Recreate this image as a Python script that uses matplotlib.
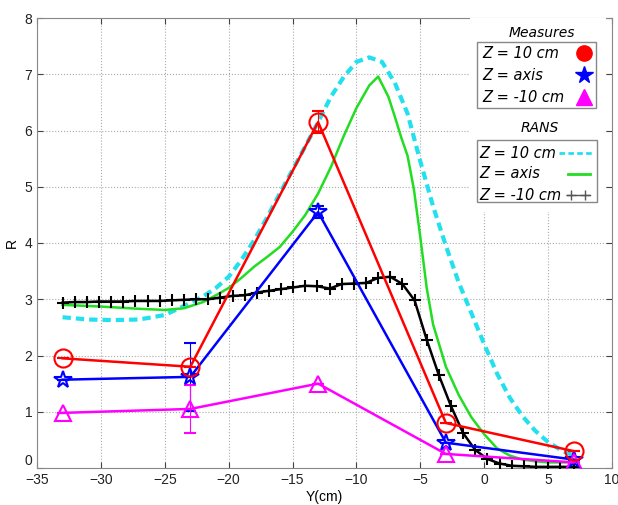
import matplotlib
matplotlib.use("Agg")
import matplotlib.pyplot as plt
from matplotlib.lines import Line2D
from matplotlib.patches import Rectangle

# --- mesures (5 stations) ---
y_meas = [-33, -23, -13, -3, 7]
r_z10 = [1.95, 1.80, 6.15, 0.80, 0.30]
r_axis = [1.57, 1.62, 4.55, 0.45, 0.15]
r_zm10 = [0.98, 1.05, 1.50, 0.25, 0.10]
err_z10 = [0.0, 0.0, 0.20, 0.0, 0.0]
err_axis = [0.0, 0.60, 0.10, 0.0, 0.0]
err_zm10 = [0.0, 0.43, 0.0, 0.0, 0.0]

# --- RANS ---
y_rans10 = [-33, -31, -29, -27, -25, -23.5, -22, -21, -20, -19, -18, -17, -16, -15,
            -14, -13, -12, -11, -10, -9, -8, -7, -6, -5, -4, -3, -2, -1, 0,
            1, 2, 3, 4, 5, 6, 7]
r_rans10 = [2.68, 2.64, 2.63, 2.64, 2.72, 2.88, 3.05, 3.20, 3.40, 3.70, 4.05, 4.45,
            4.88, 5.30, 5.72, 6.15, 6.60, 6.95, 7.22, 7.30, 7.22, 6.85, 6.30, 5.45,
            4.65, 3.95, 3.30, 2.75, 2.20, 1.68, 1.25, 0.92, 0.66, 0.46, 0.32, 0.22]

y_ransax = [-33, -30, -27, -25, -23.5, -22, -21, -20, -19, -18, -17, -16, -15, -14,
            -13, -12, -11, -10, -9, -8.3, -7.5, -7, -6.5, -6, -5.5, -5, -4.5, -4,
            -3, -2, -1, 0, 1, 2, 3, 4, 5, 6, 7]
r_ransax = [2.90, 2.87, 2.83, 2.81, 2.84, 2.95, 3.07, 3.20, 3.38, 3.58, 3.75, 3.93,
            4.20, 4.50, 4.88, 5.35, 5.90, 6.40, 6.80, 6.96, 6.60, 6.25, 5.88, 5.55,
            4.95, 4.10, 3.20, 2.55, 1.80, 1.30, 0.90, 0.60, 0.35, 0.22, 0.15, 0.12,
            0.10, 0.10, 0.10]

y_ransm10 = [-33.0, -32.05, -31.1, -30.15, -29.2, -28.25, -27.3, -26.35, -25.4, -24.45,
             -23.5, -22.55, -21.6, -20.65, -19.7, -18.75, -17.8, -16.85, -15.9, -14.95,
             -14.0, -13.05, -12.1, -11.15, -10.2, -9.25, -8.3, -7.35, -6.4, -5.45,
             -4.5, -3.55, -2.6, -1.65, -0.7, 0.25, 1.2, 2.15, 3.1, 4.05, 5.0, 5.95, 7.0]
r_ransm10 = [2.94, 2.95, 2.95, 2.96, 2.96, 2.96, 2.97, 2.97, 2.97, 2.98,
             2.99, 3.00, 3.00, 3.03, 3.06, 3.07, 3.12, 3.15, 3.18, 3.21,
             3.24, 3.23, 3.19, 3.27, 3.28, 3.29, 3.38, 3.40, 3.27, 2.98,
             2.28, 1.65, 1.10, 0.62, 0.32, 0.16, 0.08, 0.04, 0.03, 0.02, 0.02, 0.02, 0.02]

labels = ["Z = 10 cm", "Z = axis", "Z = -10 cm"]

plt.rcParams["font.family"] = ["Liberation Sans", "DejaVu Sans"]

W, H = 618, 505


def fx(x):
    return x / W


def fy(y):
    return 1 - y / H


fig = plt.figure(figsize=(W / 100, H / 100), dpi=100)
ax = fig.add_axes([fx(37), fy(468), 575 / W, 450 / H])

# RANS
ax.plot(y_rans10, r_rans10, "--", color="#22e0ee", lw=3, dashes=(2, 1.2), zorder=3)
ax.plot(y_ransax, r_ransax, "-", color="#22dd22", lw=1.8, zorder=3)
ax.plot(y_ransm10, r_ransm10, "-", color="black", lw=1.8, marker="+", ms=8, mew=1.5, zorder=4)

# mesures
ax.errorbar(y_meas, r_axis, yerr=err_axis, color="#0000ff", lw=1.8, marker="*", ms=13,
            mfc="none", mew=1.5, capsize=4, elinewidth=0.8, zorder=5)
ax.errorbar(y_meas, r_zm10, yerr=err_zm10, color="#ff00ff", lw=1.8, marker="^", ms=12,
            mfc="none", mew=1.5, capsize=4, elinewidth=0.8, zorder=5)
ax.errorbar(y_meas, r_z10, yerr=err_z10, color="#ff0000", lw=1.8, marker="o", ms=13,
            mfc="none", mew=1.5, capsize=4, elinewidth=0.8, zorder=6)

ax.set_xlim(-35, 10)
ax.set_ylim(0, 8)
ax.set_xticks(range(-35, 11, 5))
ax.set_yticks(range(0, 9))
ax.grid(True, ls=":", color="#aaaaaa", lw=0.8)
ax.tick_params(direction="in", top=True, right=True, labelsize=10, colors="#444444",
               labelcolor="#222222", length=4)
ax.get_yticklabels()[0].set_va("bottom")
for s in ax.spines.values():
    s.set_color("#888888")
ax.set_xlabel("Y(cm)", fontsize=10, labelpad=2)
ax.set_ylabel("R", fontsize=10, labelpad=4)

# zone blanche derriere les legendes
fig.add_artist(Rectangle((fx(470), fy(212)), 136 / W, 194 / H, transform=fig.transFigure,
                         facecolor="white", edgecolor="none", zorder=7))

leg_font = {"family": "DejaVu Sans", "style": "italic", "size": 10.5}

# legende "Measures"
fig.add_artist(Rectangle((fx(477), fy(108)), 119 / W, 66 / H, transform=fig.transFigure,
                         facecolor="white", edgecolor="#888888", lw=1, zorder=8))
fig.text(fx(542), fy(33), "Measures", ha="center", va="center", zorder=9,
         family="DejaVu Sans", style="italic", size=10)
meas_style = [("o", "#ff0000", 11), ("*", "#0000ff", 13), ("^", "#ff00ff", 11)]
for i, (lab, (mk, col, ms)) in enumerate(zip(labels, meas_style)):
    yy = fy(53 + 22 * i)
    fig.text(fx(482), yy, lab, ha="left", va="center", zorder=9, **leg_font)
    fig.add_artist(Line2D([fx(584)], [yy], ls="none", marker=mk, color=col, ms=ms,
                          transform=fig.transFigure, zorder=9))

# legende "RANS"
fig.add_artist(Rectangle((fx(477), fy(202)), 120 / W, 62 / H, transform=fig.transFigure,
                         facecolor="white", edgecolor="#888888", lw=1, zorder=8))
fig.text(fx(540), fy(128), "RANS", ha="center", va="center", zorder=9,
         family="DejaVu Sans", style="italic", size=10)
for i, lab in enumerate(labels):
    yy = fy(153 + 21 * i)
    fig.text(fx(479), yy, lab, ha="left", va="center", zorder=9, **leg_font)
fig.add_artist(Line2D([fx(559), fx(592)], [fy(153)] * 2, ls="--", color="#22e0ee", lw=2,
                      dashes=(2, 1.2), transform=fig.transFigure, zorder=9))
fig.add_artist(Line2D([fx(568), fx(590)], [fy(174)] * 2, color="#22dd22", lw=2,
                      transform=fig.transFigure, zorder=9))
fig.add_artist(Line2D([fx(567), fx(590)], [fy(195)] * 2, color="#555555", lw=1,
                      transform=fig.transFigure, zorder=9))
fig.add_artist(Line2D([fx(571), fx(585)], [fy(195)] * 2, ls="none", marker="+", ms=7,
                      color="#555555", transform=fig.transFigure, zorder=9))

fig.savefig("out.png", dpi=100)
